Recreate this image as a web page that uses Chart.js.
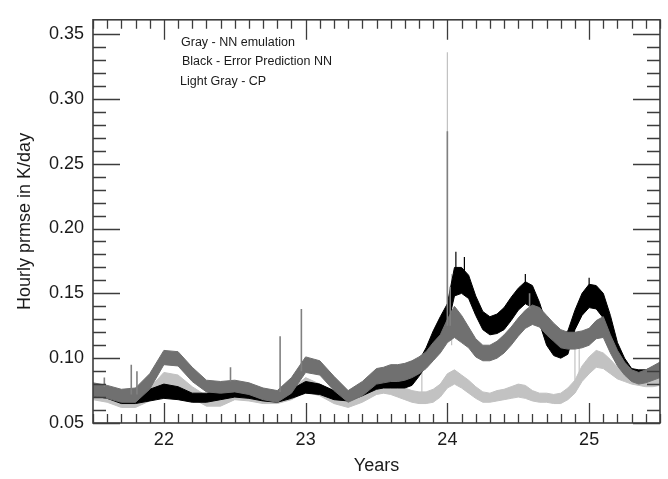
<!DOCTYPE html>
<html>
<head>
<meta charset="utf-8">
<style>
  html, body { margin: 0; padding: 0; background: #fff; }
  #wrap { width: 668px; height: 479px; }
</style>
</head>
<body>
<div id="wrap"><canvas id="chart" width="668" height="479"></canvas></div>
<script src="https://cdn.jsdelivr.net/npm/chart.js@4.4.1/dist/chart.umd.min.js"></script>
<script>
// x positions (years) of the band samples
const years = [21.5, 21.6, 21.7, 21.8, 21.9, 22.0, 22.1, 22.2, 22.3, 22.4,
  22.5, 22.6, 22.7, 22.8, 22.9, 23.0, 23.1, 23.2, 23.3, 23.4,
  23.5, 23.55, 23.6, 23.65, 23.7, 23.75, 23.8, 23.85, 23.9, 23.95,
  24.0, 24.05, 24.1, 24.15, 24.2, 24.25, 24.3, 24.35, 24.4, 24.45,
  24.5, 24.55, 24.6, 24.65, 24.7, 24.75, 24.8, 24.85, 24.9, 24.95,
  25.0, 25.05, 25.1, 25.15, 25.2, 25.25, 25.3, 25.35, 25.4, 25.45, 25.5]

// Gray - NN emulation (lower / upper edge of the noisy trace)
const nnLow = [0.071, 0.069, 0.066, 0.066, 0.076, 0.095, 0.094, 0.082, 0.074, 0.073,
  0.074, 0.072, 0.068, 0.066, 0.073, 0.089, 0.087, 0.075, 0.066, 0.071,
  0.080, 0.081, 0.082, 0.082, 0.083, 0.085, 0.088, 0.092, 0.098, 0.104,
  0.112, 0.116, 0.112, 0.108, 0.101, 0.098, 0.098, 0.100, 0.104, 0.110,
  0.117, 0.123, 0.126, 0.124, 0.118, 0.113, 0.108, 0.107, 0.107, 0.108,
  0.110, 0.115, 0.116, 0.104, 0.094, 0.087, 0.082, 0.080, 0.081, 0.083, 0.085]
const nnHigh = [0.081, 0.079, 0.076, 0.077, 0.088, 0.106, 0.105, 0.093, 0.083, 0.082,
  0.083, 0.081, 0.077, 0.075, 0.085, 0.101, 0.098, 0.086, 0.075, 0.082,
  0.092, 0.093, 0.095, 0.095, 0.096, 0.098, 0.101, 0.105, 0.112, 0.118,
  0.130, 0.140, 0.133, 0.124, 0.115, 0.110, 0.110, 0.113, 0.118, 0.124,
  0.131, 0.137, 0.141, 0.139, 0.133, 0.127, 0.122, 0.120, 0.120, 0.121,
  0.123, 0.129, 0.132, 0.118, 0.106, 0.097, 0.091, 0.089, 0.091, 0.094, 0.097]

// Black - Error Prediction NN
const errLow = [0.071, 0.069, 0.065, 0.065, 0.067, 0.069, 0.068, 0.066, 0.066, 0.068,
  0.070, 0.069, 0.067, 0.066, 0.069, 0.073, 0.072, 0.068, 0.067, 0.071,
  0.076, 0.077, 0.077, 0.077, 0.077, 0.079, 0.086, 0.094, 0.105, 0.115,
  0.124, 0.148, 0.150, 0.146, 0.133, 0.122, 0.118, 0.119, 0.122, 0.129,
  0.137, 0.142, 0.139, 0.127, 0.110, 0.102, 0.100, 0.103, 0.122, 0.133,
  0.139, 0.138, 0.131, 0.117, 0.099, 0.090, 0.084, 0.083, 0.083, 0.085, 0.087]
const errHigh = [0.080, 0.077, 0.073, 0.073, 0.076, 0.080, 0.078, 0.073, 0.073, 0.075,
  0.077, 0.076, 0.073, 0.072, 0.076, 0.082, 0.080, 0.075, 0.074, 0.079,
  0.085, 0.086, 0.087, 0.086, 0.087, 0.090, 0.098, 0.108, 0.121, 0.132,
  0.142, 0.170, 0.170, 0.164, 0.148, 0.136, 0.132, 0.134, 0.139, 0.147,
  0.154, 0.159, 0.156, 0.143, 0.126, 0.118, 0.117, 0.121, 0.137, 0.150,
  0.157, 0.156, 0.150, 0.133, 0.112, 0.100, 0.092, 0.091, 0.091, 0.093, 0.096]

// Light Gray - CP
const cpLow = [0.068, 0.066, 0.062, 0.062, 0.067, 0.077, 0.076, 0.069, 0.063, 0.063,
  0.068, 0.067, 0.065, 0.065, 0.068, 0.074, 0.071, 0.065, 0.062, 0.066,
  0.072, 0.073, 0.072, 0.070, 0.068, 0.066, 0.065, 0.065, 0.066, 0.070,
  0.077, 0.080, 0.077, 0.073, 0.069, 0.066, 0.066, 0.067, 0.068, 0.069,
  0.070, 0.069, 0.067, 0.066, 0.066, 0.065, 0.065, 0.068, 0.073, 0.082,
  0.088, 0.093, 0.092, 0.088, 0.084, 0.082, 0.080, 0.079, 0.078, 0.078, 0.079]
const cpHigh = [0.076, 0.073, 0.069, 0.070, 0.077, 0.089, 0.087, 0.078, 0.071, 0.071,
  0.077, 0.075, 0.072, 0.072, 0.076, 0.085, 0.080, 0.073, 0.069, 0.074,
  0.081, 0.082, 0.081, 0.079, 0.077, 0.075, 0.074, 0.074, 0.076, 0.080,
  0.088, 0.091, 0.087, 0.083, 0.078, 0.074, 0.073, 0.075, 0.076, 0.078,
  0.080, 0.079, 0.075, 0.073, 0.073, 0.072, 0.073, 0.077, 0.083, 0.094,
  0.101, 0.106, 0.104, 0.099, 0.093, 0.091, 0.088, 0.087, 0.086, 0.087, 0.088]

// single-sample spikes
const nnSpikeYears = [21.58, 21.77, 21.81, 22.47, 22.82, 22.97, 24.0, 24.02, 24.58]
const nnSpikeBase = [0.078, 0.072, 0.072, 0.082, 0.074, 0.090, 0.125, 0.125, 0.138]
const nnSpikeTop = [0.085, 0.095, 0.090, 0.093, 0.117, 0.138, 0.275, 0.155, 0.150]
const cpSpikeYears = [23.82, 24.0, 24.03, 24.9, 24.93]
const cpSpikeBase = [0.074, 0.140, 0.110, 0.080, 0.085]
const cpSpikeTop = [0.100, 0.336, 0.165, 0.113, 0.108]
const errSpikeYears = [24.06, 24.12, 24.55, 25.0]
const errSpikeBase = [0.165, 0.160, 0.155, 0.150]
const errSpikeTop = [0.182, 0.178, 0.165, 0.162]

const xTicks = [22, 23, 24, 25]
const yTicks = [0.05, 0.10, 0.15, 0.20, 0.25, 0.30, 0.35]
const notes = ['Gray - NN emulation', 'Black - Error Prediction NN', 'Light Gray - CP']

const GRAY = '#707070'
const BLACK = '#000000'
const LIGHT = '#c2c2c2'
const FONT = '"Liberation Sans", Arial, Helvetica, sans-serif'

const pts = (xs, ys) => xs.map((x, i) => ({ x: x, y: ys[i] }))
const spikes = (xs, base, top) => xs.flatMap((x, i) => [
  { x: x, y: base[i] }, { x: x, y: top[i] }, { x: x, y: null }
])

function band(low, high, color, order) {
  return [
    { data: pts(years, low), borderColor: color, backgroundColor: color,
      borderWidth: 1, pointRadius: 0, fill: false, order: order },
    { data: pts(years, high), borderColor: color, backgroundColor: color,
      borderWidth: 1, pointRadius: 0, fill: '-1', order: order }
  ]
}

// inward ticks on all four sides plus the frame
const framePlugin = {
  id: 'frame',
  afterDatasetsDraw(chart) {
    const { ctx, chartArea: a, scales: { x, y } } = chart
    ctx.save()
    ctx.strokeStyle = '#3c3c3c'
    ctx.lineWidth = 1.3
    ctx.beginPath()
    for (let i = 0; i <= 40; i++) {
      const v = 21.5 + i * 0.1
      const major = Math.abs(v - Math.round(v)) < 1e-6
      const len = major ? 20 : 9
      const px = Math.round(x.getPixelForValue(v)) + 0.5
      ctx.moveTo(px, a.bottom); ctx.lineTo(px, a.bottom - len)
      ctx.moveTo(px, a.top); ctx.lineTo(px, a.top + len)
    }
    for (let i = 0; i <= 31; i++) {
      const v = 0.05 + i * 0.01
      const major = i % 5 === 0
      const len = major ? 27 : 13
      const py = Math.round(y.getPixelForValue(v)) + 0.5
      if (py < a.top + 2) continue
      ctx.moveTo(a.left, py); ctx.lineTo(a.left + len, py)
      ctx.moveTo(a.right, py); ctx.lineTo(a.right - len, py)
    }
    ctx.stroke()
    ctx.lineWidth = 1.6
    ctx.strokeRect(a.left, a.top, a.right - a.left, a.bottom - a.top)

    ctx.fillStyle = '#1a1a1a'
    ctx.font = '12.5px ' + FONT
    ctx.textBaseline = 'middle'
    ctx.fillText(notes[0], 181, 43)
    ctx.fillText(notes[1], 182, 62)
    ctx.fillText(notes[2], 180, 82)
    ctx.restore()
  }
}

const ctx = document.getElementById('chart').getContext('2d')
window.myChart = new Chart(ctx, {
  type: 'line',
  data: {
    datasets: [
      ...band(cpLow, cpHigh, LIGHT, 5),
      ...band(errLow, errHigh, BLACK, 3),
      ...band(nnLow, nnHigh, GRAY, 1),
      { data: spikes(cpSpikeYears, cpSpikeBase, cpSpikeTop), borderColor: LIGHT,
        borderWidth: 1.2, pointRadius: 0, fill: false, order: 4 },
      { data: spikes(nnSpikeYears, nnSpikeBase, nnSpikeTop), borderColor: '#808080',
        borderWidth: 1.6, pointRadius: 0, fill: false, order: 0 },
      { data: spikes(errSpikeYears, errSpikeBase, errSpikeTop), borderColor: BLACK,
        borderWidth: 1.2, pointRadius: 0, fill: false, order: 2 }
    ]
  },
  options: {
    responsive: false,
    animation: false,
    layout: { padding: { top: 7, right: 8, left: 0, bottom: 0 } },
    elements: { line: { tension: 0 } },
    plugins: { legend: { display: false }, tooltip: { enabled: false } },
    scales: {
      x: {
        type: 'linear',
        min: 21.5,
        max: 25.5,
        afterBuildTicks: s => { s.ticks = xTicks.map(v => ({ value: v })) },
        afterFit: s => { s.height = 56 },
        grid: { display: false, drawTicks: false },
        border: { display: false },
        ticks: { padding: 6, color: '#1a1a1a', font: { family: FONT, size: 18 },
          callback: v => String(v) },
        title: { display: true, text: 'Years', color: '#1a1a1a',
          font: { family: FONT, size: 18 }, padding: { top: 0, bottom: 2 } }
      },
      y: {
        min: 0.05,
        max: 0.361,
        afterBuildTicks: s => { s.ticks = yTicks.map(v => ({ value: v })) },
        afterFit: s => { s.width = 93 },
        grid: { display: false, drawTicks: false },
        border: { display: false },
        ticks: { padding: 9, color: '#1a1a1a', font: { family: FONT, size: 18 },
          callback: v => v.toFixed(2) },
        title: { display: true, text: 'Hourly prmse in K/day', color: '#1a1a1a',
          font: { family: FONT, size: 18 }, padding: { top: 14, bottom: 0 } }
      }
    }
  },
  plugins: [framePlugin]
})
</script>
</body>
</html>
